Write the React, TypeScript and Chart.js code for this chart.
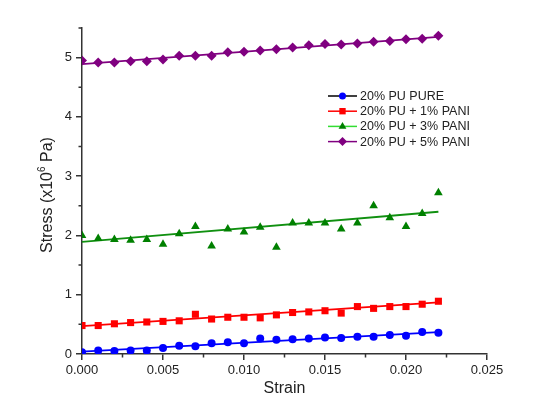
import React, { useEffect, useRef } from 'react';
import { Chart, registerables } from 'chart.js';

Chart.register(...registerables);

const strain = [0, 0.001, 0.002, 0.003, 0.004, 0.005, 0.006, 0.007, 0.008, 0.009, 0.01, 0.011, 0.012, 0.013, 0.014, 0.015, 0.016, 0.017, 0.018, 0.019, 0.02, 0.021, 0.022];
const pure = [0.03, 0.06, 0.05, 0.06, 0.06, 0.1, 0.14, 0.13, 0.18, 0.2, 0.18, 0.26, 0.24, 0.25, 0.26, 0.28, 0.27, 0.29, 0.29, 0.32, 0.31, 0.37, 0.36];
const pani1 = [0.48, 0.48, 0.51, 0.53, 0.54, 0.55, 0.56, 0.67, 0.59, 0.62, 0.62, 0.61, 0.66, 0.7, 0.71, 0.73, 0.69, 0.8, 0.77, 0.8, 0.8, 0.84, 0.89];
const pani3 = [2.0, 1.95, 1.93, 1.92, 1.93, 1.85, 2.03, 2.15, 1.82, 2.11, 2.06, 2.14, 1.8, 2.21, 2.21, 2.21, 2.11, 2.21, 2.5, 2.3, 2.15, 2.37, 2.72];
const pani5 = [4.95, 4.92, 4.92, 4.94, 4.94, 4.97, 5.03, 5.03, 5.03, 5.09, 5.1, 5.12, 5.14, 5.17, 5.21, 5.23, 5.22, 5.24, 5.27, 5.28, 5.31, 5.32, 5.37];

const fitX = [0, 0.022];
const fitPure = [0.04, 0.37];
const fit1 = [0.47, 0.87];
const fit3 = [1.89, 2.4];
const fit5 = [4.89, 5.35];

const seriesNames = ['20% PU PURE', '20% PU + 1% PANI', '20% PU + 3% PANI', '20% PU + 5% PANI'];
const xTickValues = [0, 0.005, 0.01, 0.015, 0.02, 0.025];
const xMinorValues = [0.0025, 0.0075, 0.0125, 0.0175, 0.0225];
const yTickValues = [0, 1, 2, 3, 4, 5];
const yMinorValues = [0.5, 1.5, 2.5, 3.5, 4.5, 5.5];

const markerColors = ['#0000ff', '#ff0000', '#008000', '#800080'];
const fitColors = ['#0000ff', '#ff0000', '#109010', '#800080'];
const legendLineColors = ['#000000', '#ff0000', '#33dd33', '#800080'];
const pointStyles = ['circle', 'rect', 'triangle', 'rectRot'];
const pointRadii = [4, 5, 5, 5];

const FONT = '"Liberation Sans", Arial, sans-serif';

function drawMarker(ctx: CanvasRenderingContext2D, style: string, x: number, y: number, r: number) {
  ctx.beginPath();
  if (style === 'circle') {
    ctx.arc(x, y, r, 0, Math.PI * 2);
  } else if (style === 'rect') {
    const s = Math.SQRT1_2 * r;
    ctx.rect(x - s, y - s, 2 * s, 2 * s);
  } else if (style === 'triangle') {
    const h = r * 1.5;
    ctx.moveTo(x, y - r);
    ctx.lineTo(x + r * 0.866, y + r * 0.5);
    ctx.lineTo(x - r * 0.866, y + r * 0.5);
    void h;
    ctx.closePath();
  } else {
    ctx.moveTo(x - r, y);
    ctx.lineTo(x, y - r);
    ctx.lineTo(x + r, y);
    ctx.lineTo(x, y + r);
    ctx.closePath();
  }
  ctx.fill();
}

const decorPlugin = {
  id: 'decor',
  afterDraw(chart: any) {
    const ctx: CanvasRenderingContext2D = chart.ctx;
    const xs = chart.scales.x;
    const ys = chart.scales.y;
    const area = chart.chartArea;
    ctx.save();
    // minor ticks
    ctx.strokeStyle = '#333';
    ctx.lineWidth = 1.5;
    ctx.beginPath();
    xMinorValues.forEach((v) => {
      const px = xs.getPixelForValue(v);
      ctx.moveTo(px, area.bottom);
      ctx.lineTo(px, area.bottom + 3.5);
    });
    yMinorValues.forEach((v) => {
      const py = ys.getPixelForValue(v);
      ctx.moveTo(area.left, py);
      ctx.lineTo(area.left - 3.5, py);
    });
    ctx.stroke();

    // y axis title with superscript
    ctx.fillStyle = '#222';
    ctx.translate(48, (area.top + area.bottom) / 2 + 4);
    ctx.rotate(-Math.PI / 2);
    ctx.textBaseline = 'middle';
    const big = `16px ${FONT}`;
    const small = `10px ${FONT}`;
    const p1 = 'Stress (x10';
    const p2 = '6';
    const p3 = ' Pa)';
    ctx.font = big;
    const w1 = ctx.measureText(p1).width;
    const w3 = ctx.measureText(p3).width;
    ctx.font = small;
    const w2 = ctx.measureText(p2).width;
    const total = w1 + w2 + w3;
    let cx = -total / 2;
    ctx.font = big;
    ctx.textAlign = 'left';
    ctx.fillText(p1, cx, 0);
    cx += w1;
    ctx.font = small;
    ctx.fillText(p2, cx, -6);
    cx += w2;
    ctx.font = big;
    ctx.fillText(p3, cx, 0);
    ctx.restore();

    // legend
    ctx.save();
    ctx.font = `12.5px ${FONT}`;
    ctx.textBaseline = 'middle';
    ctx.textAlign = 'left';
    seriesNames.forEach((name, i) => {
      const y = 96 + i * 15.2;
      ctx.strokeStyle = legendLineColors[i];
      ctx.lineWidth = 1.5;
      ctx.beginPath();
      ctx.moveTo(328, y);
      ctx.lineTo(357, y);
      ctx.stroke();
      ctx.fillStyle = markerColors[i];
      drawMarker(ctx, pointStyles[i], 342.5, y, pointRadii[i] - 0.5);
      ctx.fillStyle = '#222';
      ctx.fillText(name, 360, y + 0.5);
    });
    ctx.restore();
  },
};

export default function App() {
  const ref = useRef<HTMLCanvasElement | null>(null);
  useEffect(() => {
    if (!ref.current) return;
    const seriesValues = [pure, pani1, pani3, pani5];
    const fits = [fitPure, fit1, fit3, fit5];
    const datasets: any[] = [];
    fits.forEach((f, i) => {
      datasets.push({
        label: 'fit ' + seriesNames[i],
        data: fitX.map((x, k) => ({ x, y: f[k] })),
        showLine: true,
        borderColor: fitColors[i],
        borderWidth: 1.8,
        pointRadius: 0,
        pointHoverRadius: 0,
        fill: false,
        order: 2,
      });
    });
    seriesValues.forEach((vals, i) => {
      datasets.push({
        label: seriesNames[i],
        data: strain.map((x, k) => ({ x, y: vals[k] })),
        showLine: false,
        pointStyle: pointStyles[i],
        pointRadius: pointRadii[i],
        backgroundColor: markerColors[i],
        borderColor: markerColors[i],
        borderWidth: 0,
        order: 1,
      });
    });
    const chart = new Chart(ref.current, {
      type: 'scatter',
      data: { datasets },
      options: {
        animation: false,
        responsive: true,
        maintainAspectRatio: false,
        layout: { padding: { left: 0, top: 28, right: 50, bottom: 0 } },
        plugins: { legend: { display: false }, tooltip: { enabled: false } },
        scales: {
          x: {
            type: 'linear',
            min: 0,
            max: 0.025,
            afterBuildTicks: (s: any) => {
              s.ticks = xTickValues.map((v) => ({ value: v }));
            },
            afterFit: (s: any) => {
              s.height = 44;
            },
            ticks: {
              callback: (v: any) => Number(v).toFixed(3),
              font: { family: FONT, size: 13 },
              color: '#222',
              padding: 3,
              maxRotation: 0,
            },
            grid: { display: true, drawOnChartArea: false, drawTicks: true, tickLength: 6, color: '#333', lineWidth: 1.5 },
            border: { display: true, color: '#333', width: 1.5 },
            title: { display: true, text: 'Strain', font: { family: FONT, size: 16 }, color: '#222', padding: { top: 0, bottom: 0 } },
          },
          y: {
            type: 'linear',
            min: 0,
            max: 5.5,
            afterBuildTicks: (s: any) => {
              s.ticks = yTickValues.map((v) => ({ value: v }));
            },
            afterFit: (s: any) => {
              s.width = 82;
            },
            ticks: {
              callback: (v: any) => String(v),
              font: { family: FONT, size: 13 },
              color: '#222',
              padding: 4,
            },
            grid: { display: true, drawOnChartArea: false, drawTicks: true, tickLength: 6, color: '#333', lineWidth: 1.5 },
            border: { display: true, color: '#333', width: 1.5 },
          },
        },
      },
      plugins: [decorPlugin],
    });
    return () => chart.destroy();
  }, []);
  return (
    <div style={{ position: 'absolute', left: 0, top: 0, width: 537, height: 398, background: '#fff' }}>
      <canvas ref={ref} />
    </div>
  );
}
